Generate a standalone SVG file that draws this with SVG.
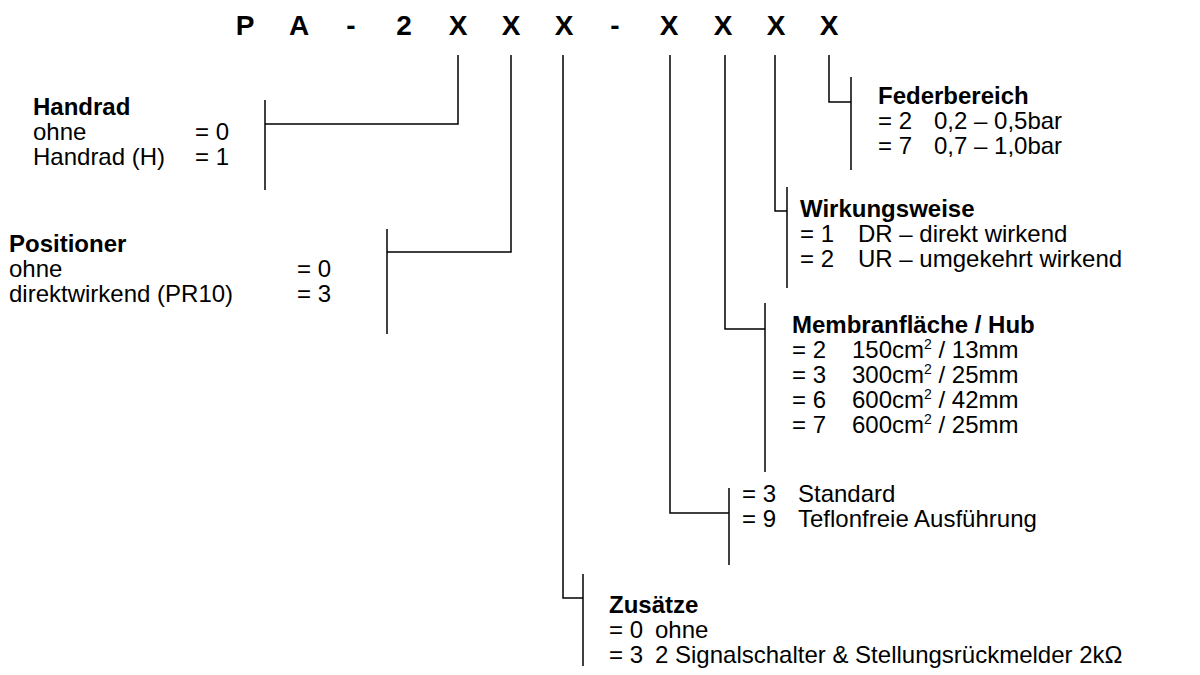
<svg xmlns="http://www.w3.org/2000/svg" width="1200" height="675" viewBox="0 0 1200 675">
<style>
.t{font-family:"Liberation Sans",Arial,sans-serif;font-size:24px;fill:#000}
.b{font-weight:bold}
.title{font-family:"Liberation Sans",Arial,sans-serif;font-size:28px;font-weight:bold;fill:#000;text-anchor:middle}
.sup{font-size:14px}
.ln{fill:none;stroke:#000;stroke-width:1.5}
</style>
<rect width="1200" height="675" fill="#fff"/>
<g id="code">
<text class="title" y="35"><tspan x="245">P</tspan><tspan x="299">A</tspan><tspan x="351">-</tspan><tspan x="404">2</tspan><tspan x="458">X</tspan><tspan x="511">X</tspan><tspan x="564">X</tspan><tspan x="615">-</tspan><tspan x="669">X</tspan><tspan x="723">X</tspan><tspan x="776">X</tspan><tspan x="829">X</tspan></text>
</g>
<g id="connectors" class="ln">
<polyline points="458,55 458,124 265,124"/><line x1="265" y1="100" x2="265" y2="190"/>
<polyline points="511,55 511,252 387,252"/><line x1="387" y1="229" x2="387" y2="334"/>
<polyline points="563,55 563,598 583,598"/><line x1="583" y1="574" x2="583" y2="666"/>
<polyline points="670,55 670,513 729,513"/><line x1="729" y1="488" x2="729" y2="565"/>
<polyline points="725,55 725,329 765,329"/><line x1="765" y1="303" x2="765" y2="472"/>
<polyline points="775,55 775,211 787,211"/><line x1="787" y1="187" x2="787" y2="288"/>
<polyline points="829,55 829,102 851,102"/><line x1="851" y1="77" x2="851" y2="170"/>
</g>
<g id="handrad" class="t">
<text x="33" y="115" class="b">Handrad</text>
<text x="33" y="140">ohne</text><text x="195" y="140">= 0</text>
<text x="33" y="165">Handrad (H)</text><text x="195" y="165">= 1</text>
</g>
<g id="positioner" class="t">
<text x="9" y="252" class="b">Positioner</text>
<text x="9" y="277">ohne</text><text x="297" y="277">= 0</text>
<text x="9" y="302">direktwirkend (PR10)</text><text x="297" y="302">= 3</text>
</g>
<g id="federbereich" class="t">
<text x="878" y="104" class="b">Federbereich</text>
<text x="878" y="129">= 2</text><text x="934" y="129">0,2 – 0,5bar</text>
<text x="878" y="154">= 7</text><text x="934" y="154">0,7 – 1,0bar</text>
</g>
<g id="wirkungsweise" class="t">
<text x="800" y="217" class="b">Wirkungsweise</text>
<text x="800" y="242">= 1</text><text x="858" y="242">DR – direkt wirkend</text>
<text x="800" y="267">= 2</text><text x="858" y="267">UR – umgekehrt wirkend</text>
</g>
<g id="membran" class="t">
<text x="792" y="333" class="b">Membranfläche / Hub</text>
<text x="792" y="358">= 2</text><text x="852" y="358">150cm<tspan class="sup" dy="-9">2</tspan><tspan dy="9"> / 13mm</tspan></text>
<text x="792" y="383">= 3</text><text x="852" y="383">300cm<tspan class="sup" dy="-9">2</tspan><tspan dy="9"> / 25mm</tspan></text>
<text x="792" y="408">= 6</text><text x="852" y="408">600cm<tspan class="sup" dy="-9">2</tspan><tspan dy="9"> / 42mm</tspan></text>
<text x="792" y="433">= 7</text><text x="852" y="433">600cm<tspan class="sup" dy="-9">2</tspan><tspan dy="9"> / 25mm</tspan></text>
</g>
<g id="material" class="t">
<text x="742" y="502">= 3</text><text x="798" y="502">Standard</text>
<text x="742" y="527">= 9</text><text x="798" y="527">Teflonfreie Ausführung</text>
</g>
<g id="zusaetze" class="t">
<text x="609" y="613" class="b">Zusätze</text>
<text x="609" y="638">= 0</text><text x="655" y="638">ohne</text>
<text x="609" y="663">= 3</text><text x="655" y="663">2 Signalschalter &amp; Stellungsrückmelder 2kΩ</text>
</g>
</svg>
